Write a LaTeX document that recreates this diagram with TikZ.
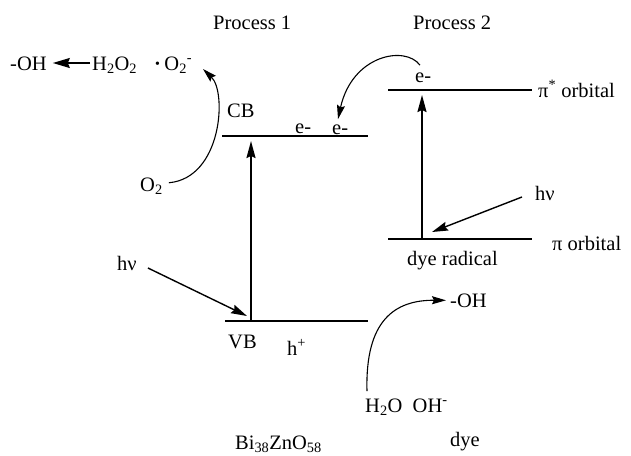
\documentclass[tikz,border=0pt]{standalone}
\usepackage{fontspec}
\setmainfont{Liberation Serif}
\usetikzlibrary{arrows.meta}
\begin{document}
\begin{tikzpicture}[x=1pt,y=-1pt,
  lbl/.style={font=\fontsize{20.5}{24}\selectfont, inner sep=0pt, anchor=base west},
  level/.style={line width=1.8pt},
  vup/.style={line width=1.8pt,-{Stealth[length=17pt,width=9pt,inset=2pt]}},
  photon/.style={line width=1.4pt,-{Stealth[length=16pt,width=9pt,inset=2pt]}},
  curvearrow/.style={line width=1.1pt,-{Stealth[length=14pt,width=8pt,inset=2pt]}},
  reactarrow/.style={line width=1.6pt,-{Stealth[length=17pt,width=10pt,inset=2pt]}}]
\useasboundingbox (0,0) rectangle (631,455);

% titles
\node[lbl] (p1) at (213,29) {Process 1};
\node[lbl] (p2) at (413,29) {Process 2};

% top reaction row
\node[lbl] (ohl) at (10,70) {-OH};
\node[lbl] (h2o2) at (92,70) {H\textsubscript{2}O\textsubscript{2}};
\node[lbl] (o2rad) at (154,70) {\textbf{·}\,O\textsubscript{2}\textsuperscript{-}};

% Process 1 labels
\node[lbl] (cb) at (227,117) {CB};
\node[lbl] (e1) at (295,133) {e-};
\node[lbl] (e2) at (332,134) {e-};
\node[lbl] (o2) at (140,191) {O\textsubscript{2}};
\node[lbl] (hvl) at (117,270) {hν};
\node[lbl] (vb) at (228,348) {VB};
\node[lbl] (hp) at (287,355) {h\textsuperscript{+}};
\node[lbl] (bi) at (235,449) {Bi\textsubscript{38}ZnO\textsubscript{58}};

% Process 2 labels
\node[lbl] (e3) at (415,82) {e-};
\node[lbl] (pistar) at (538,97) {π\textsuperscript{*} orbital};
\node[lbl] (hvr) at (535,200) {hν};
\node[lbl] (pi) at (552,250) {π orbital};
\node[lbl] (dyer) at (407,265) {dye radical};
\node[lbl] (ohr) at (450,307) {-OH};
\node[lbl] (h2o) at (365,412) {H\textsubscript{2}O\ \ OH\textsuperscript{-}};
\node[lbl] (dye) at (450,446) {dye};

% energy levels
\coordinate (cbL) at (222,136); \coordinate (cbR) at (368,136);
\coordinate (vbL) at (225,321); \coordinate (vbR) at (368,321);
\coordinate (psL) at (388,90);  \coordinate (psR) at (532,90);
\coordinate (piL) at (388,239); \coordinate (piR) at (532,239);
\draw[level] (cbL) -- (cbR);
\draw[level] (vbL) -- (vbR);
\draw[level] (psL) -- (psR);
\draw[level] (piL) -- (piR);

% excitation arrows
\coordinate (vbx) at (251,320);
\coordinate (cbx) at (251,141);
\draw[vup] (vbx) -- (cbx);
\coordinate (pix) at (422,238);
\coordinate (psx) at (422,95);
\draw[vup] (pix) -- (psx);

% photons
\draw[photon] ([shift={(11,5)}]hvl.east) -- ([shift={(-4,-4)}]vbx);
\draw[photon] ([shift={(-13,4)}]hvr.west) -- ([shift={(10,-6)}]pix);

% H2O2 -> -OH
\draw[reactarrow] ([xshift=-2pt]h2o2.west |- 0,63) -- ([xshift=6pt]ohl.east |- 0,63);

% curved arrows
\draw[curvearrow] ([shift={(6,-3)}]o2.east) .. controls (222,178) and (227,92) .. (203,69);
\draw[curvearrow] ([shift={(5,-7)}]e3.north west) .. controls (405,45) and (352,55) .. ([shift={(6,-5)}]e2.north west);
\draw[curvearrow] ([shift={(2,-7)}]h2o.north west) .. controls (365,320) and (395,300) .. ([shift={(-4,0)}]ohr.west);
\end{tikzpicture}
\end{document}
